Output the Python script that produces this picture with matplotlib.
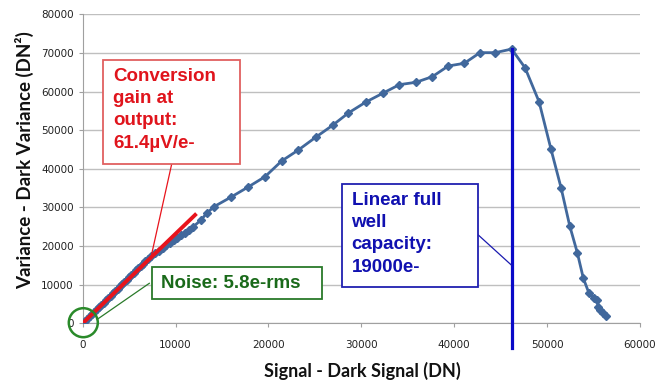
import matplotlib
matplotlib.use("Agg")
import matplotlib.pyplot as plt
from matplotlib.patches import Rectangle, Ellipse
from matplotlib.lines import Line2D

# signal (DN) vs variance (DN^2)
signal = [0, 250, 500, 750, 1000, 1250, 1500, 1750, 2000, 2250, 2500, 2750, 3000,
          3250, 3500, 3750, 4000, 4250, 4500, 4750, 5000, 5250, 5500, 5750, 6000,
          6250, 6500, 6750, 7000, 7400, 7800, 8200, 8600, 9000, 9400, 9800, 10200,
          10600, 11000, 11400, 11900, 12740, 13350, 14140, 15930, 17760, 19630,
          21420, 23220, 25080, 26910, 28600, 30500, 32300, 34090, 35880, 37640,
          39360, 41090, 42770, 44420, 46180, 47620, 49130, 50420, 51500, 52430,
          53250, 53900, 54510, 55080, 55340, 55520, 55700, 56050, 56340]
variance = [0, 610, 1200, 1800, 2400, 3000, 3590, 4190, 4780, 5380, 5970, 6560, 7160,
            7750, 8350, 8940, 9540, 10130, 10720, 11310, 11900, 12500, 13090, 13680, 14270,
            14860, 15450, 16040, 16630, 17400, 18100, 18800, 19500, 20200, 20850, 21500, 22200,
            22850, 23500, 24150, 25000, 26750, 28480, 30200, 32620, 35210, 37960,
            42020, 44870, 48160, 51270, 54450, 57300, 59550, 61780, 62400, 63850,
            66620, 67320, 70070, 70070, 71000, 66180, 57380, 45050, 35110, 25270,
            18280, 11650, 7770, 6470, 6030, 4300, 3440, 2590, 1970]

fit_x = [0, 12250]          # conversion gain fit line
fit_y = [0, 28400]
full_well_x = 46180         # linear full well marker
full_well_y = [-6500, 71000]

W, H = 667, 380
fig = plt.figure(figsize=(W / 100, H / 100), dpi=100)
ax = fig.add_axes([82.7 / W, 1 - 323.3 / H, (640 - 82.7) / W, (323.3 - 14.3) / H])

ax.plot(signal, variance, color="#41689c", lw=2, marker="D", ms=4.5, zorder=3)
ax.plot(fit_x, fit_y, color="#e8141c", lw=2.8, solid_capstyle="butt", zorder=4)
ax.plot([full_well_x, full_well_x], full_well_y, color="#0a0ac8", lw=2.3,
        clip_on=False, zorder=5)

ax.set_xlim(0, 60000)
ax.set_ylim(0, 80000)
ax.set_xticks(range(0, 60001, 10000))
ax.set_yticks(range(0, 80001, 10000))
ax.yaxis.grid(True, color="#bfbfbf", lw=1)
ax.set_axisbelow(True)
for s in ["top", "right"]:
    ax.spines[s].set_visible(False)
for s in ["left", "bottom"]:
    ax.spines[s].set_color("#a0a0a0")
ax.tick_params(axis="both", colors="#a0a0a0", length=3, labelsize=7.5,
               labelcolor="#222222")
ax.tick_params(axis="x", pad=9)


def fx(px):
    return px / W


def fy(py):
    return 1 - py / H


lab = dict(fontweight="bold", family="Lato", color="#111111")
fig.text(fx(362), fy(371), "Signal - Dark Signal (DN)", ha="center", va="center",
         fontsize=13, **lab)
fig.text(fx(25), fy(160), "Variance - Dark Variance (DN²)", ha="center", va="center",
         rotation=90, fontsize=13.5, **lab)

box_font = dict(fontweight="bold", family="Liberation Sans", fontsize=13.5,
                linespacing=1.4)


def box(x0, y0, x1, y1, ec):
    fig.patches.append(Rectangle((fx(x0), fy(y1)), fx(x1 - x0), (y1 - y0) / H,
                                 transform=fig.transFigure, fc="white", ec=ec,
                                 lw=1.3, zorder=6))


def link(x0, y0, x1, y1, c):
    fig.lines.append(Line2D([fx(x0), fx(x1)], [fy(y0), fy(y1)],
                            transform=fig.transFigure, color=c, lw=0.9, zorder=5))


# conversion gain box
link(171.7, 164, 151.7, 254, "#e8141c")
box(103.3, 60, 240, 164, "#e06060")
fig.text(fx(113), fy(68), "Conversion\ngain at\noutput:\n61.4µV/e-", ha="left",
         va="top", color="#e0141c", zorder=7, **box_font)

# noise box
link(149.3, 283.3, 97.3, 319.3, "#2a7a2a")
box(151.7, 267.3, 322.3, 299, "#2a7a2a")
fig.text(fx(161), fy(283.5), "Noise: 5.8e-rms", ha="left", va="center",
         color="#1a6a1a", zorder=7, **box_font)
fig.patches.append(Ellipse((fx(83.3), fy(322.7)), 29 / W, 29 / H,
                           transform=fig.transFigure, fc="none", ec="#2a8a2a",
                           lw=1.8, zorder=6))

# full well box
link(478.3, 235, 511.3, 265, "#1a1ab0")
box(342.3, 184, 478.3, 287.3, "#2020b0")
fig.text(fx(351.5), fy(192), "Linear full\nwell\ncapacity:\n19000e-", ha="left",
         va="top", color="#1010b0", zorder=7, **box_font)

fig.savefig("out.png", dpi=100)
